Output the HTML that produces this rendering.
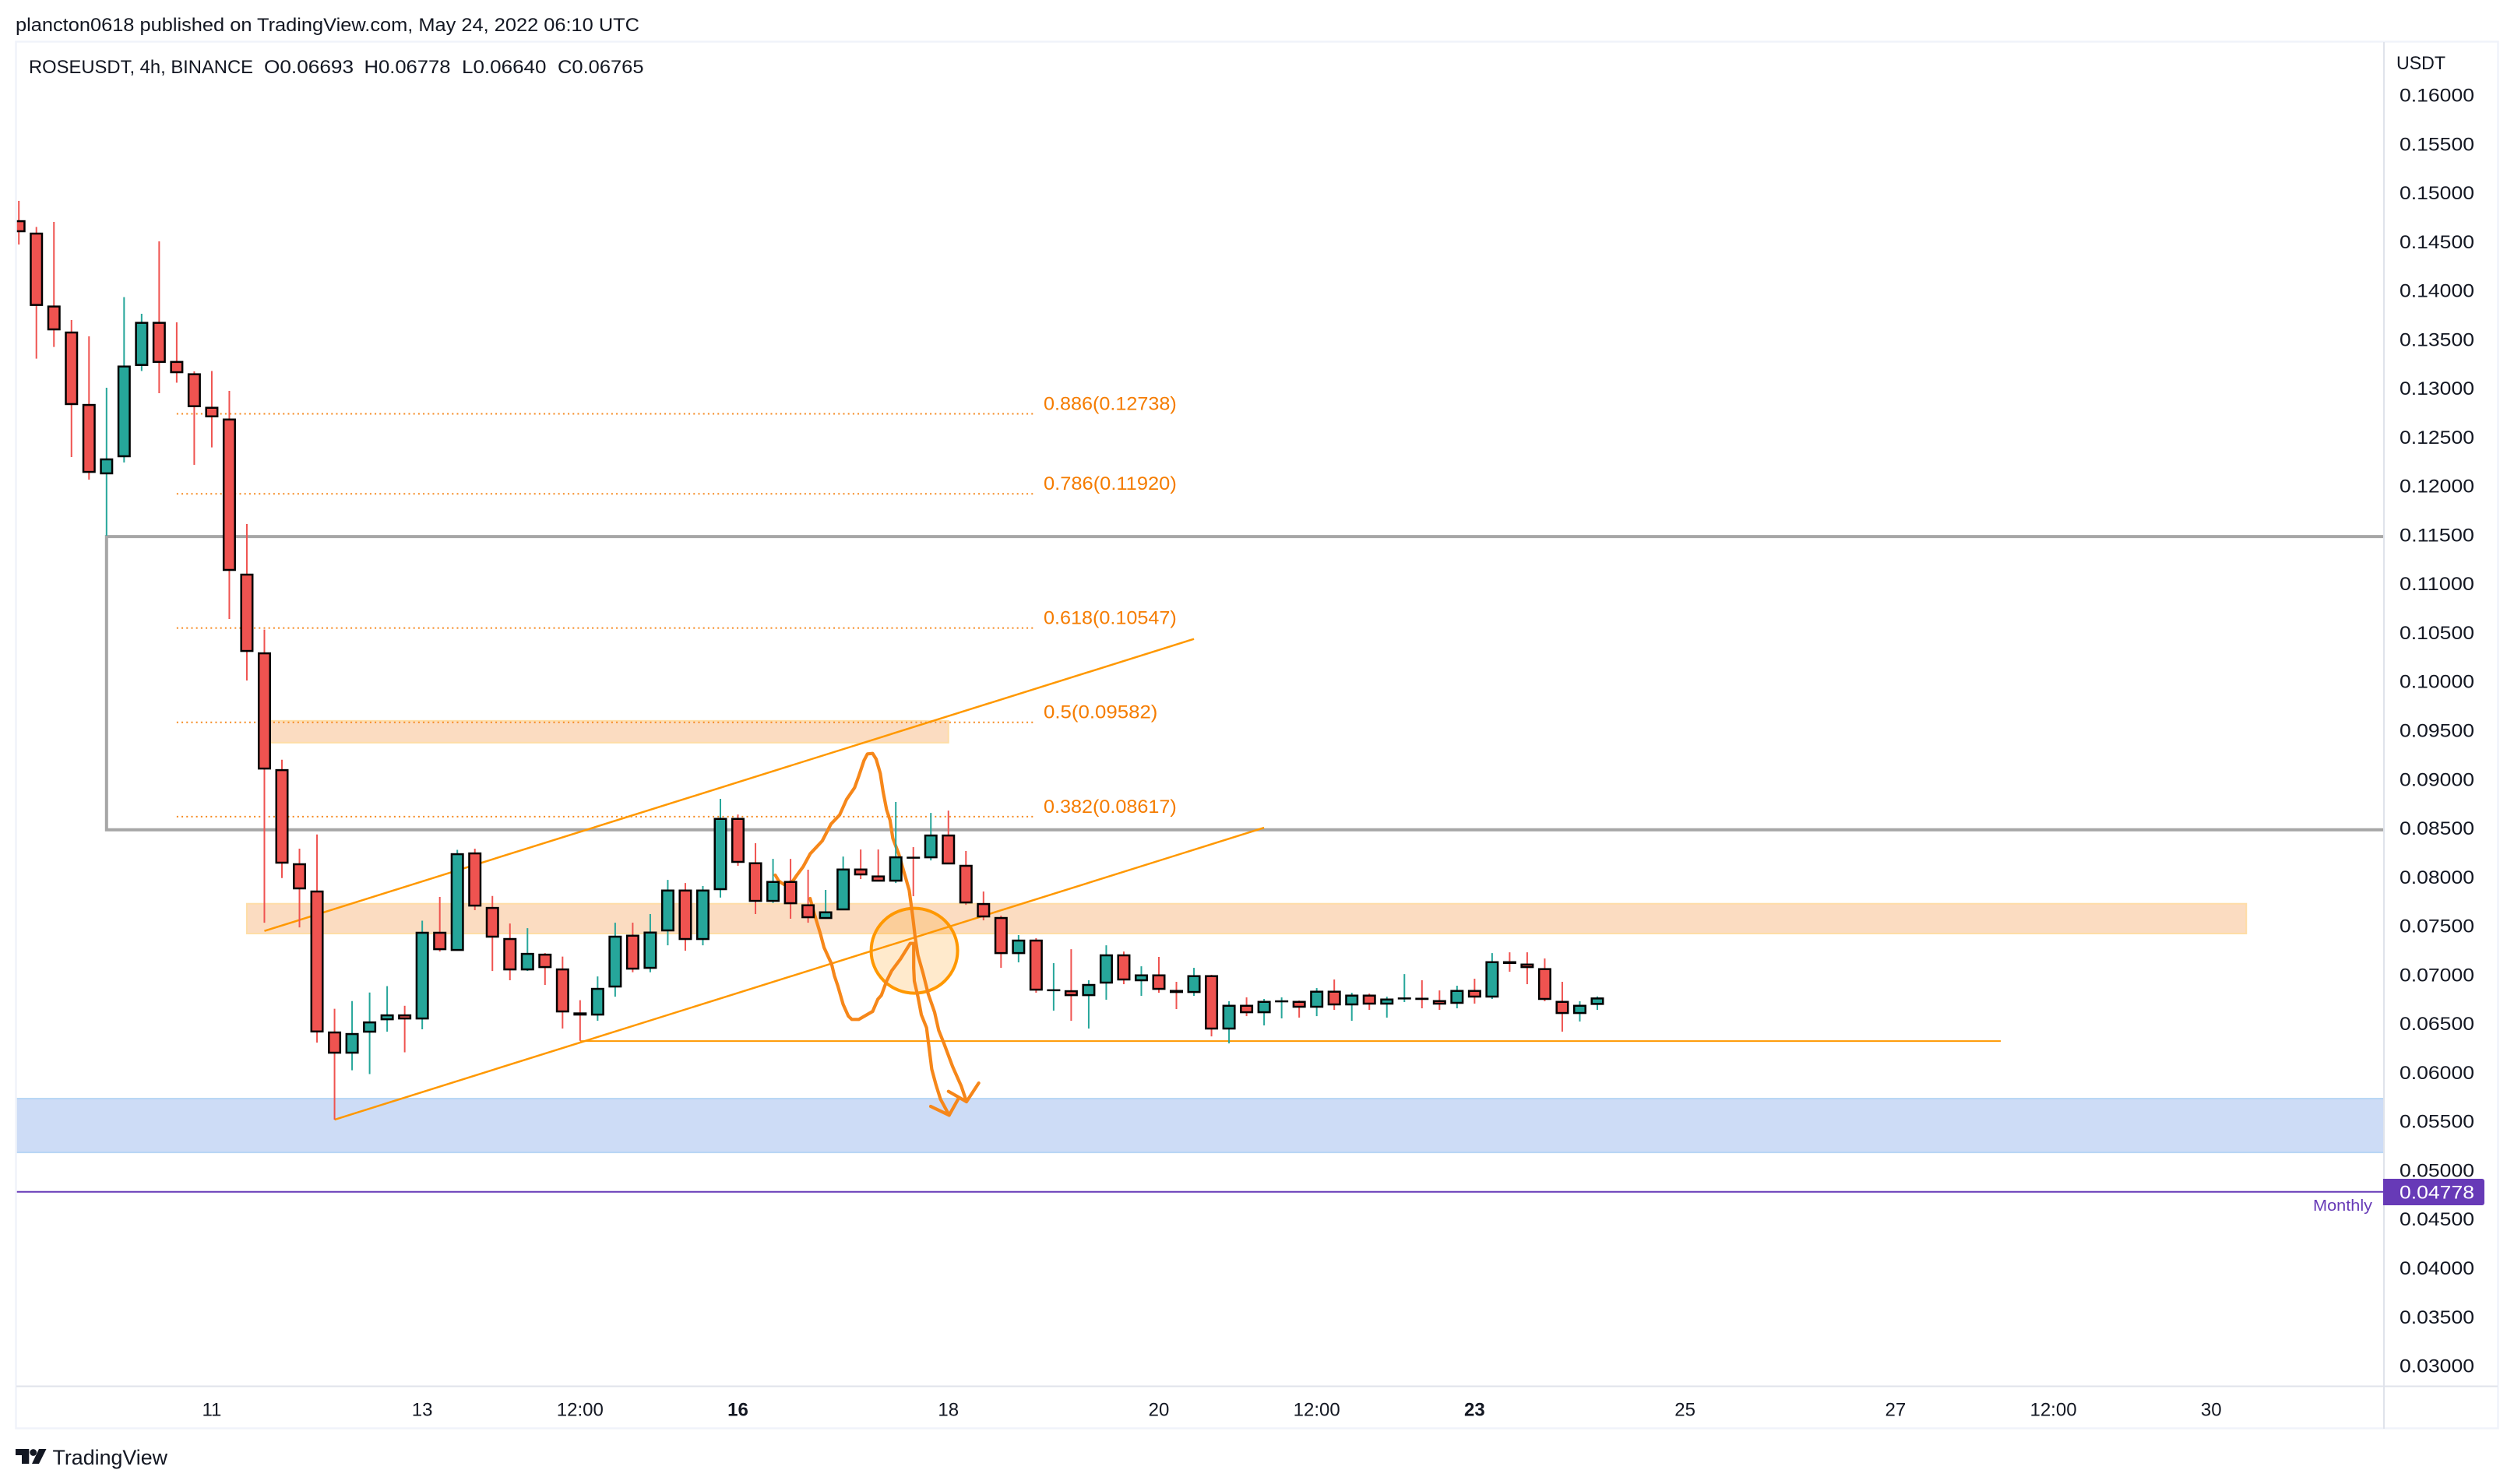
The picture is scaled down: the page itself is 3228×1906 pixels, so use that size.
<!DOCTYPE html>
<html lang="en">
<head>
<meta charset="utf-8">
<title>ROSEUSDT 4h chart</title>
<style>
html,body{margin:0;padding:0;background:#fff;width:3228px;height:1906px;overflow:hidden}
svg{display:block}
text{font-family:"Liberation Sans",sans-serif;fill:#131722}
</style>
</head>
<body>
<svg id="chart" xmlns="http://www.w3.org/2000/svg" width="3228" height="1906" viewBox="0 0 3228 1906">
  <defs>
    <clipPath id="plot-clip"><rect x="21" y="54" width="3039" height="1725"/></clipPath>
  </defs>
  <rect x="0" y="0" width="3228" height="1906" fill="#ffffff"/>
  <text x="20" y="40" font-size="24" textLength="801" lengthAdjust="spacingAndGlyphs">plancton0618 published on TradingView.com, May 24, 2022 06:10 UTC</text>

  <g id="drawings-back" clip-path="url(#plot-clip)"></g>

  <g id="drawings-brush" clip-path="url(#plot-clip)" fill="none" stroke="#f6871a" stroke-width="4.2" stroke-linejoin="round" stroke-linecap="round">
    <polyline points="995.5,1124 1000,1131.7 1006.7,1136 1017.9,1131.7 1023.2,1124 1031.2,1113.3 1040.2,1096.7 1055.8,1080 1067,1058.3 1078.1,1046.7 1087,1026.7 1097.3,1011.7 1102.7,996.7 1109.4,976.7 1113.8,968.3 1120.5,967.7 1125,975 1130.3,993.3 1133.9,1016.7 1138.4,1040 1142.8,1053.3 1146.4,1076.7 1154,1096.7 1160.7,1120 1167.4,1143.3 1171.9,1176.7 1175,1203.3 1178.6,1226.7 1185.2,1250 1191.9,1276.7 1200,1300 1205.3,1323.3 1212,1340 1223.2,1370 1234.3,1395 1241,1415"/>
    <polyline points="1217.8,1401.7 1241,1415 1256.7,1391"/>
    <polyline points="1040.2,1154 1045.5,1173.3 1053.6,1200 1058,1216.7 1067.8,1238.3 1071.4,1253.3 1075.9,1266.7 1082.6,1290 1089.3,1305 1093.7,1309.3 1102.7,1309.3 1120.5,1299 1127.2,1283.3 1131.7,1278.3 1138.4,1260 1145,1246.7 1156.2,1231.7 1168.7,1211.7 1173.2,1211.7 1173.2,1243.3 1174,1260 1178.6,1280 1183,1303.3 1189.7,1320 1196.4,1373.3 1201.8,1393.3 1207.6,1411.7 1218.7,1432.3"/>
    <polyline points="1195,1421 1218.7,1432.3 1231.2,1410"/>
  </g>

  <g id="candles" clip-path="url(#plot-clip)"></g>

  <text x="2970" y="1555" font-size="20" textLength="76" lengthAdjust="spacingAndGlyphs" style="fill:#673ab7">Monthly</text>

  <g fill="none">
    <rect x="20.5" y="53.5" width="3187" height="1781" stroke="#f0f3fa" stroke-width="2.5"/>
    <line x1="3061" y1="54" x2="3061" y2="1835" stroke="#e0e3eb" stroke-width="2"/>
    <line x1="21" y1="1780.5" x2="3207" y2="1780.5" stroke="#e0e3eb" stroke-width="2"/>
  </g>

  <text x="37" y="94" font-size="24" textLength="288" lengthAdjust="spacingAndGlyphs">ROSEUSDT, 4h, BINANCE</text>
  <text x="339" y="94" font-size="24" textLength="115" lengthAdjust="spacingAndGlyphs">O0.06693</text>
  <text x="467.5" y="94" font-size="24" textLength="111" lengthAdjust="spacingAndGlyphs">H0.06778</text>
  <text x="593" y="94" font-size="24" textLength="108.5" lengthAdjust="spacingAndGlyphs">L0.06640</text>
  <text x="716" y="94" font-size="24" textLength="110.5" lengthAdjust="spacingAndGlyphs">C0.06765</text>

  <text x="3077" y="89" font-size="24" textLength="63" lengthAdjust="spacingAndGlyphs">USDT</text>
  <g id="price-axis"></g>
  <g id="time-axis"></g>

  <path d="M3060 1514 H3187 a3 3 0 0 1 3 3 V1545 a3 3 0 0 1 -3 3 H3060 Z" fill="#673ab7"/>
  <text x="3081" y="1539.5" font-size="24" textLength="96" lengthAdjust="spacingAndGlyphs" style="fill:#ffffff">0.04778</text>

  <g fill="#131722">
    <path d="M20 1861 H37.3 V1880 H28 V1869 H20 Z"/>
    <circle cx="42.7" cy="1865.5" r="4.4"/>
    <path d="M50 1861 H59.5 L50 1880 H41 Z"/>
    <text x="67.5" y="1881" font-size="27" textLength="147.5" lengthAdjust="spacingAndGlyphs">TradingView</text>
  </g>
</svg>

<script>
const opens = [0.14717,0.14590,0.13844,0.13578,0.12837,0.12121,0.12296,0.13230,0.13677,0.13277,
0.13151,0.12808,0.12688,0.11101,0.10296,0.09101,0.08138,0.07859,0.06417,0.06194,
0.06409,0.06536,0.06592,0.06544,0.07437,0.07245,0.08249,0.07691,0.07373,0.07046,
0.07213,0.07062,0.06612,0.06584,0.06871,0.07407,0.07062,0.07445,0.07869,0.07357,
0.07867,0.08602,0.08148,0.07747,0.07957,0.07718,0.07572,0.07660,0.08084,0.08013,
0.07954,0.08201,0.08193,0.08432,0.08122,0.07731,0.07588,0.07213,0.07357,0.06839,
0.06839,0.06783,0.06911,0.07206,0.06935,0.07001,0.06842,0.06815,0.06993,0.06441,
0.06690,0.06608,0.06725,0.06730,0.06664,0.06834,0.06688,0.06794,0.06696,0.06755,
0.06762,0.06738,0.06704,0.06842,0.06768,0.07136,0.07112,0.07065,0.06730,0.06600,0.06693];
const highs = [0.14917,0.14650,0.14702,0.13698,0.13531,0.13005,0.13932,0.13762,0.14502,0.13674,
0.13172,0.13176,0.12973,0.11611,0.10531,0.09199,0.08289,0.08435,0.06651,0.06730,
0.06818,0.06883,0.06682,0.07552,0.07795,0.08277,0.08289,0.07805,0.07524,0.07476,
0.07221,0.07185,0.06739,0.06982,0.07532,0.07532,0.07620,0.07970,0.07938,0.07907,
0.08799,0.08639,0.08345,0.08185,0.08185,0.08074,0.07867,0.08209,0.08281,0.08281,
0.08767,0.08305,0.08655,0.08679,0.08265,0.07851,0.07604,0.07405,0.07373,0.07118,
0.07261,0.06943,0.07301,0.07237,0.07086,0.07182,0.06927,0.07070,0.06999,0.06728,
0.06768,0.06752,0.06768,0.06736,0.06863,0.06951,0.06815,0.06807,0.06775,0.07006,
0.06943,0.06839,0.06887,0.06959,0.07221,0.07229,0.07229,0.07166,0.06927,0.06728,0.06778];
const lows = [0.14470,0.13303,0.13422,0.12296,0.12065,0.11491,0.12240,0.13176,0.12949,0.13057,
0.12216,0.12395,0.10639,0.10010,0.07532,0.07989,0.07484,0.06305,0.05517,0.06022,
0.05983,0.06417,0.06206,0.06441,0.07237,0.07245,0.07660,0.07038,0.06943,0.07038,
0.06895,0.06449,0.06324,0.06529,0.06775,0.07025,0.07025,0.07301,0.07245,0.07301,
0.07789,0.08114,0.07620,0.07734,0.07572,0.07532,0.07572,0.07660,0.07978,0.07954,
0.07938,0.07803,0.08169,0.08130,0.07715,0.07556,0.07070,0.07126,0.06815,0.06632,
0.06528,0.06449,0.06744,0.06903,0.06783,0.06815,0.06648,0.06783,0.06369,0.06297,
0.06576,0.06481,0.06553,0.06561,0.06576,0.06640,0.06528,0.06640,0.06561,0.06720,
0.06656,0.06640,0.06656,0.06704,0.06752,0.07030,0.06903,0.06728,0.06417,0.06521,0.06640];
const closes = [0.14598,0.13844,0.13594,0.12830,0.12136,0.12280,0.13230,0.13677,0.13261,0.13156,
0.12808,0.12704,0.11133,0.10304,0.09101,0.08138,0.07875,0.06411,0.06194,0.06401,
0.06520,0.06592,0.06544,0.07437,0.07253,0.08241,0.07699,0.07381,0.07046,0.07221,
0.07070,0.06616,0.06584,0.06863,0.07397,0.07054,0.07439,0.07869,0.07357,0.07869,
0.08602,0.08146,0.07747,0.07957,0.07723,0.07580,0.07646,0.08084,0.08018,0.07954,
0.08209,0.08193,0.08432,0.08130,0.07731,0.07588,0.07213,0.07357,0.06839,0.06843,
0.06783,0.06903,0.07206,0.06943,0.07001,0.06847,0.06815,0.06993,0.06441,0.06690,
0.06608,0.06730,0.06730,0.06664,0.06834,0.06688,0.06794,0.06696,0.06754,0.06759,
0.06744,0.06696,0.06842,0.06768,0.07136,0.07112,0.07070,0.06744,0.06600,0.06690,0.06765];

const priceTicks = ["0.16000","0.15500","0.15000","0.14500","0.14000","0.13500","0.13000","0.12500","0.12000","0.11500","0.11000","0.10500","0.10000","0.09500","0.09000","0.08500","0.08000","0.07500","0.07000","0.06500","0.06000","0.05500","0.05000","0.04500","0.04000","0.03500","0.03000"];
const timeLabels = ["11","13","12:00","16","18","20","12:00","23","25","27","12:00","30"];
const timeBars = [11,23,32,41,53,65,74,83,95,107,116,125];
const timeBold = ["16","23"];

const fibRatios = ["0.886","0.786","0.618","0.5","0.382"];
const fibPrices = ["0.12738","0.11920","0.10547","0.09582","0.08617"];
const fibBarStart = 9;
const fibBarEnd = 57.9;

const monthlyLevel = 0.04778;
const rangeBoxBar = 5;
const rangeBoxPrices = [0.11483,0.08482];
const upperZoneBars = [14,53];
const upperZonePrices = [0.09597,0.09374];
const lowerZoneBars = [13,127];
const lowerZonePrices = [0.07726,0.07421];
const demandZonePrices = [0.05732,0.05182];
const channelUpperBars = [14,67];
const channelUpperPrices = [0.07447,0.10435];
const channelLowerBars = [18,71];
const channelLowerPrices = [0.05517,0.08504];
const supportBars = [32,113];
const supportPrice = 0.06321;
const circleBar = 51.06;
const circlePrice = 0.07245;

const NS = 'http://www.w3.org/2000/svg';
function xOf(bar){ return 24.2 + 22.52 * bar; }
function yOf(price){ return 122 + (0.16 - price) * 12554; }
function make(tag, attrs, parent){
  const el = document.createElementNS(NS, tag);
  for (const k in attrs) el.setAttribute(k, attrs[k]);
  parent.appendChild(el);
  return el;
}

const back = document.getElementById('drawings-back');
const plotLeft = 20, plotRight = 3061;
let el;

/* demand zone */
el = make('rect', {x:plotLeft, y:yOf(demandZonePrices[0]), width:plotRight-plotLeft, height:yOf(demandZonePrices[1])-yOf(demandZonePrices[0]), fill:'#cddcf6', stroke:'#b8d6f5', 'stroke-width':2}, back);



/* orange zones */
el = make('rect', {x:xOf(upperZoneBars[0]), y:yOf(upperZonePrices[0]), width:xOf(upperZoneBars[1])-xOf(upperZoneBars[0]), height:yOf(upperZonePrices[1])-yOf(upperZonePrices[0]), fill:'#fbdcc1', stroke:'#fedda6', 'stroke-width':2}, back);



el = make('rect', {x:xOf(lowerZoneBars[0]), y:yOf(lowerZonePrices[0]), width:xOf(lowerZoneBars[1])-xOf(lowerZoneBars[0]), height:yOf(lowerZonePrices[1])-yOf(lowerZonePrices[0]), fill:'#fbdcc1', stroke:'#fedda6', 'stroke-width':2}, back);



/* gray range box */
el = make('path', {d:'M'+plotRight+' '+yOf(rangeBoxPrices[0])+' H'+xOf(rangeBoxBar)+' V'+yOf(rangeBoxPrices[1])+' H'+plotRight, fill:'none', stroke:'#a6a6a6', 'stroke-width':4}, back);



/* fibonacci levels */
fibRatios.forEach(function(ratio, i){
  const y = yOf(parseFloat(fibPrices[i]));
  let line = make('line', {x1:xOf(fibBarStart), y1:y, x2:xOf(fibBarEnd), y2:y, stroke:'#f6891f', 'stroke-width':2, 'stroke-dasharray':'2 4.2'}, back);
  
  
  const label = ratio + '(' + fibPrices[i] + ')';
  let t = make('text', {x:1340, y:y-5, 'font-size':24, textLength:label.length*12.2, lengthAdjust:'spacingAndGlyphs', style:'fill:#f57c00'}, back);
  t.textContent = label;
  
  
});

/* channel and support */
el = make('line', {x1:xOf(channelUpperBars[0]), y1:yOf(channelUpperPrices[0]), x2:xOf(channelUpperBars[1]), y2:yOf(channelUpperPrices[1]), stroke:'#ff9800', 'stroke-width':2.5}, back);



el = make('line', {x1:xOf(channelLowerBars[0]), y1:yOf(channelLowerPrices[0]), x2:xOf(channelLowerBars[1]), y2:yOf(channelLowerPrices[1]), stroke:'#ff9800', 'stroke-width':2.5}, back);



el = make('line', {x1:xOf(supportBars[0]), y1:yOf(supportPrice), x2:xOf(supportBars[1]), y2:yOf(supportPrice), stroke:'#ff9800', 'stroke-width':2}, back);



/* circle */
el = make('ellipse', {cx:xOf(circleBar), cy:yOf(circlePrice), rx:55.5, ry:54.5, fill:'rgba(255,152,0,0.2)', stroke:'#ff9800', 'stroke-width':4}, back);



/* monthly line */
el = make('line', {x1:plotLeft, y1:yOf(monthlyLevel), x2:plotRight, y2:yOf(monthlyLevel), stroke:'#673ab7', 'stroke-width':2}, back);



/* candles */
const candleLayer = document.getElementById('candles');
opens.forEach(function(open, i){
  const close = closes[i];
  const up = close >= open;
  const color = up ? '#26a69a' : '#ef5350';
  const x = xOf(i);
  const wick = make('line', {x1:x, x2:x, y1:yOf(highs[i]), y2:yOf(lows[i]), stroke:color, 'stroke-width':2}, candleLayer);
  
  
  const top = yOf(Math.max(open, close));
  const bottom = yOf(Math.min(open, close));
  const h = Math.max(0.01, bottom - top - 2);
  const body = make('rect', {x:x-7.25, y:(bottom-top-2 > 0 ? top+1 : (top+bottom)/2), width:14.5, height:h, fill:color, stroke:'#000000', 'stroke-width':2.5}, candleLayer);
  
  
});

/* price axis */
const priceAxis = document.getElementById('price-axis');
priceTicks.forEach(function(label){
  const t = make('text', {x:3081, y:yOf(parseFloat(label))+8.5, 'font-size':24, textLength:96, lengthAdjust:'spacingAndGlyphs'}, priceAxis);
  t.textContent = label;
  
  
});

/* time axis */
const timeAxis = document.getElementById('time-axis');
timeLabels.forEach(function(label, i){
  const bold = timeBold.indexOf(label) >= 0;
  const t = make('text', {x:xOf(timeBars[i]), y:1818.5, 'font-size':24, 'text-anchor':'middle', 'font-weight':bold ? 700 : 400}, timeAxis);
  t.textContent = label;
  
  
});
</script>
</body>
</html>
